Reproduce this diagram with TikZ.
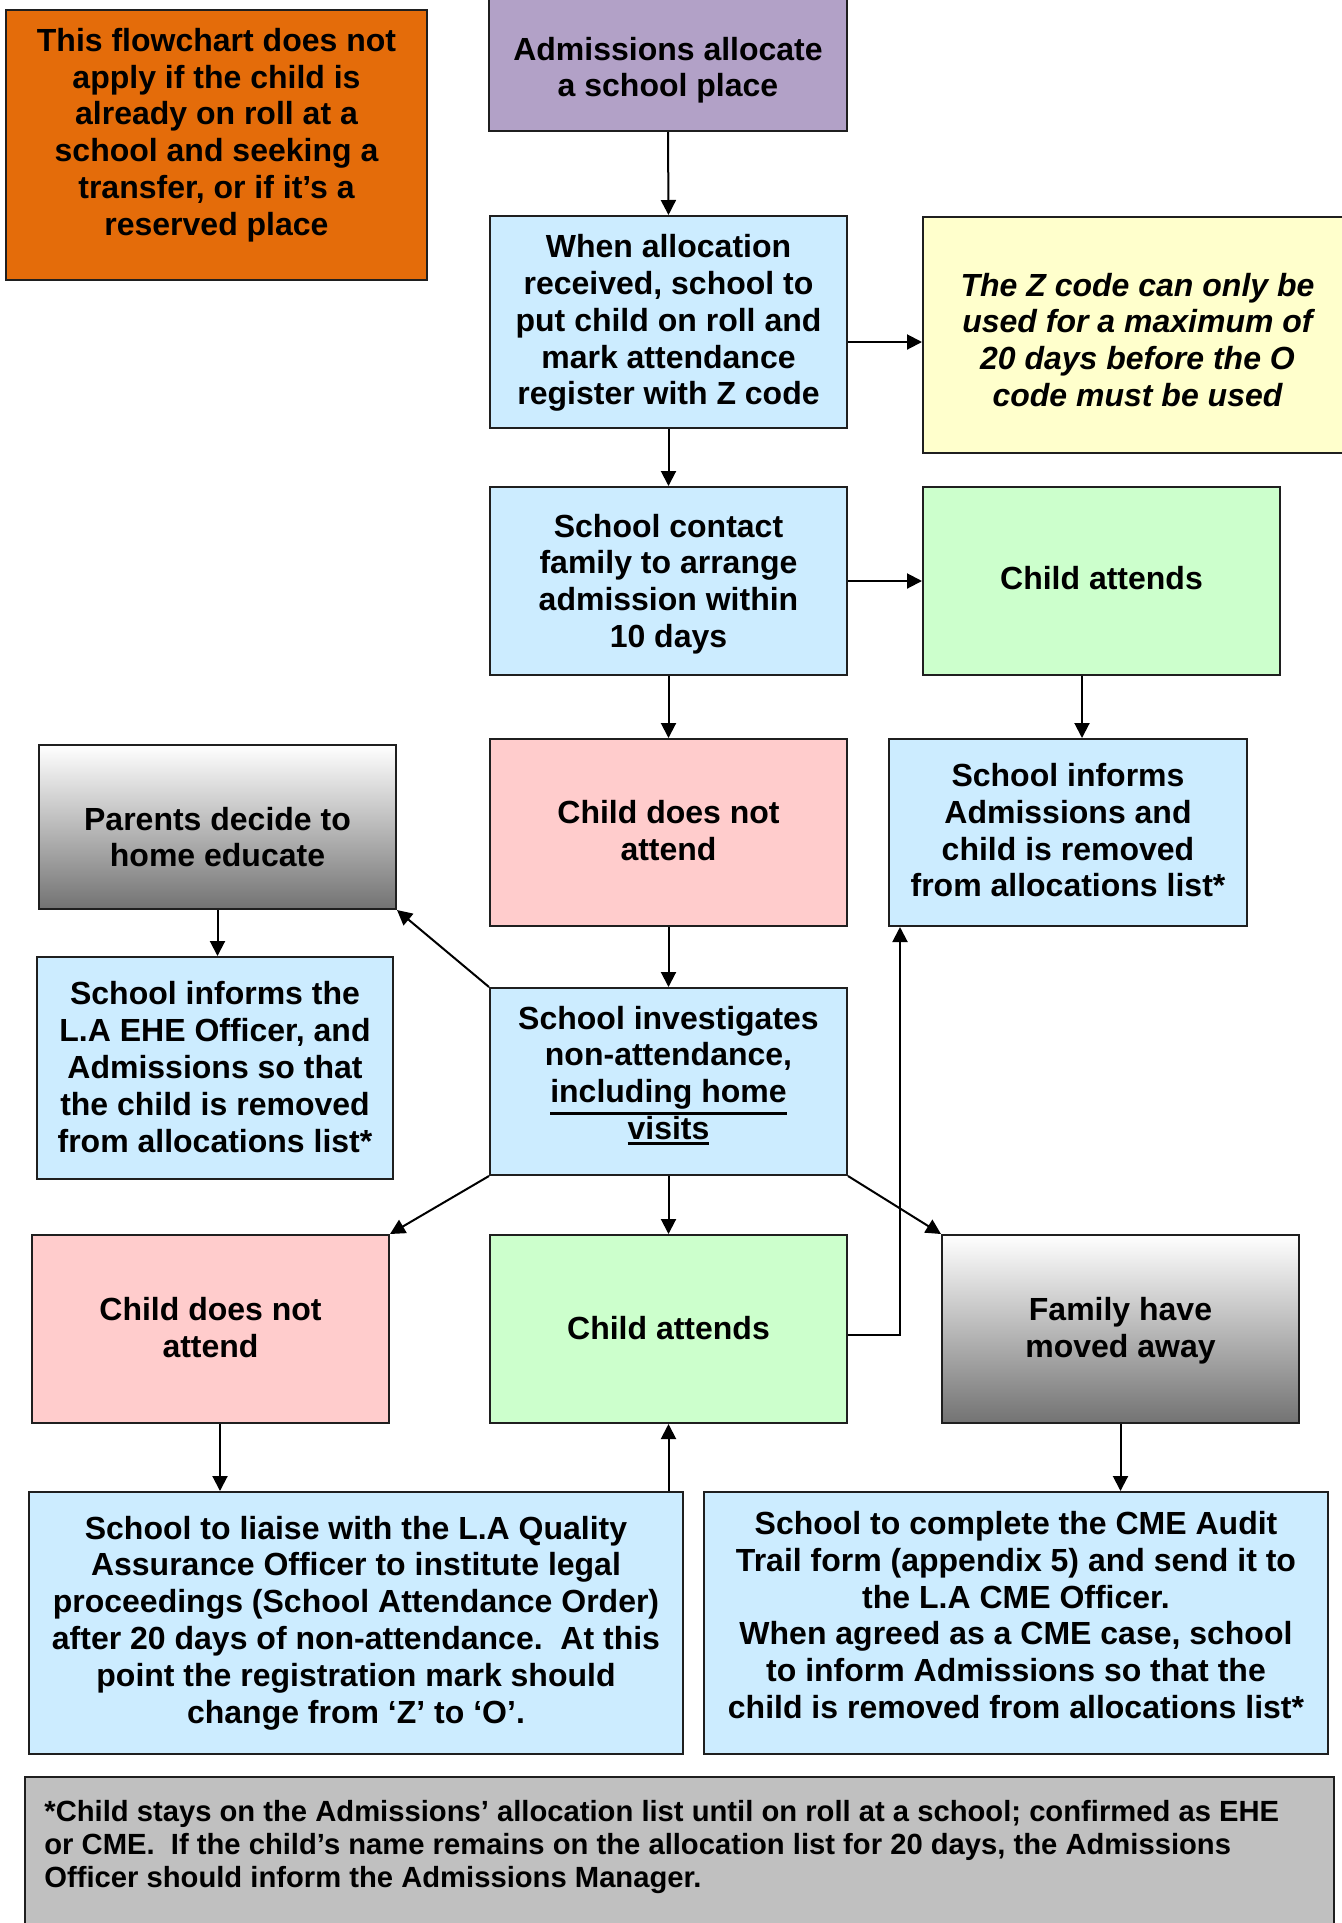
\documentclass[tikz,border=0pt]{standalone}
\usepackage{fontspec}
\setmainfont{Liberation Sans}
\usetikzlibrary{arrows.meta,fit}
\definecolor{orangeB}{RGB}{228,108,10}
\definecolor{purpleB}{RGB}{178,161,199}
\definecolor{blueB}{RGB}{204,236,255}
\definecolor{yellowB}{RGB}{255,255,204}
\definecolor{greenB}{RGB}{204,255,204}
\definecolor{pinkB}{RGB}{255,204,204}
\definecolor{grayB}{RGB}{192,192,192}
\newcommand\thickul[1]{\leavevmode\vtop{\hbox{#1}\kern1.2pt\hrule height 1.5pt}}
\tikzset{
 box/.style={draw=black!88, line width=1pt, inner sep=0pt},
 txt/.style={align=center, inner sep=0pt, font=\bfseries\fontsize{16pt}{18.4pt}\selectfont},
 arr/.style={draw=black, line width=1pt, -{Triangle[length=7.5pt,width=7.5pt]}},
 grad/.style={top color=white, bottom color=black!55},
}
\begin{document}
\begin{tikzpicture}[x=0.5pt,y=-0.5pt]
\useasboundingbox (0,0) rectangle (1341,1923);
% boxes
\node[box, fill=orangeB, fit={(6,10)(427,280)},
  label={[txt, yshift=5pt]center:{This flowchart does not\\apply if the child is\\already on roll at a\\school and seeking a\\transfer, or if it’s a\\reserved place}}] (note) {};
\node[box, fill=purpleB, fit={(489,-8)(847,131)},
  label={[txt, yshift=-4.4pt]center:{Admissions allocate\\a school place}}] (admit) {};
\node[box, fill=blueB, fit={(490,216)(847,428)},
  label={[txt, yshift=-0.5pt]center:{When allocation\\received, school to\\put child on roll and\\mark attendance\\register with Z code}}] (alloc) {};
\node[box, fill=yellowB, fit={(923,217)(1352,453)},
  label={[txt, yshift=-2.4pt, font=\bfseries\itshape\fontsize{16pt}{18.4pt}\selectfont]center:{The Z code can only be\\used for a maximum of\\20 days before the O\\code must be used}}] (zcode) {};
\node[box, fill=blueB, fit={(490,487)(847,675)},
  label={[txt, yshift=-1.5pt]center:{School contact\\family to arrange\\admission within\\10 days}}] (contact) {};
\node[box, fill=greenB, fit={(923,487)(1280,675)},
  label={[txt, yshift=1.6pt]center:{Child attends}}] (att1) {};
\node[box, fill=pinkB, fit={(490,739)(847,926)},
  label={[txt, yshift=1.1pt]center:{Child does not\\attend}}] (nott1) {};
\node[box, fill=blueB, fit={(889,739)(1247,926)},
  label={[txt, yshift=1.1pt]center:{School informs\\Admissions and\\child is removed\\from allocations list*}}] (informs) {};
\node[box, grad, fit={(39,745)(396,909)},
  label={[txt, yshift=-5pt]center:{Parents decide to\\home educate}}] (parents) {};
\node[box, fill=blueB, fit={(37,957)(393,1179)},
  label={[txt, yshift=0.5pt]center:{School informs the\\L.A EHE Officer, and\\Admissions so that\\the child is removed\\from allocations list*}}] (ehe) {};
\node[box, fill=blueB, fit={(490,988)(847,1175)},
  label={[txt, yshift=3pt]center:{School investigates\\non-attendance,\\\thickul{including home}\\\thickul{visits}}}] (invest) {};
\node[box, fill=pinkB, fit={(32,1235)(389,1423)},
  label={[txt, yshift=0.6pt]center:{Child does not\\attend}}] (nott2) {};
\node[box, fill=greenB, fit={(490,1235)(847,1423)},
  label={[txt, yshift=0.6pt]center:{Child attends}}] (att2) {};
\node[box, grad, fit={(942,1235)(1299,1423)},
  label={[txt, yshift=-1pt]center:{Family have\\moved away}}] (family) {};
\node[box, fill=blueB, fit={(29,1492)(683,1754)},
  label={[txt, yshift=0.1pt]center:{School to liaise with the L.A Quality\\Assurance Officer to institute legal\\proceedings (School Attendance Order)\\after 20 days of non-attendance.\ \ At this\\point the registration mark should\\change from ‘Z’ to ‘O’.}}] (liaise) {};
\node[box, fill=blueB, fit={(704,1492)(1328,1754)},
  label={[txt, yshift=4pt]center:{School to complete the CME Audit\\Trail form (appendix 5) and send it to\\the L.A CME Officer.\\When agreed as a CME case, school\\to inform Admissions so that the\\child is removed from allocations list*}}] (cme) {};
\node[box, fill=grayB, fit={(25,1777)(1334,1950)},
  label={[anchor=north west, align=left, inner sep=0pt, xshift=10pt, yshift=-12pt, font=\bfseries\fontsize{14.6pt}{16.6pt}\selectfont]north west:{*Child stays on the Admissions’ allocation list until on roll at a school; confirmed as EHE\\or CME.\ \ If the child’s name remains on the allocation list for 20 days, the Admissions\\Officer should inform the Admissions Manager.}}] (foot) {};
% helper x positions
\coordinate (gx) at (1082,0);
\coordinate (ux) at (900,0);
\coordinate (lx) at (220,0);
% connectors
\draw[arr] (admit.south) -- (alloc.north);
\draw[arr] ([yshift=-10pt]alloc.east) -- ([yshift=-10pt]alloc.east -| zcode.west);
\draw[arr] (alloc.south) -- (contact.north);
\draw[arr] (contact.east) -- (att1.west);
\draw[arr] (att1.south -| gx) -- (informs.north -| gx);
\draw[arr] (contact.south) -- (nott1.north);
\draw[arr] (nott1.south) -- (invest.north);
\draw[arr] (invest.north west) -- (parents.south east);
\draw[arr] (parents.south) -- (ehe.north -| parents.south);
\draw[arr] (invest.south west) -- (nott2.north east);
\draw[arr] (invest.south) -- (att2.north);
\draw[arr] (invest.south east) -- (family.north west);
\draw[arr] ([yshift=-3pt]att2.east) -| (informs.south -| ux);
\draw[arr] (nott2.south -| lx) -- (liaise.north -| lx);
\draw[arr] (liaise.north -| att2.south) -- (att2.south);
\draw[arr] (family.south) -- (cme.north -| family.south);
\end{tikzpicture}
\end{document}
